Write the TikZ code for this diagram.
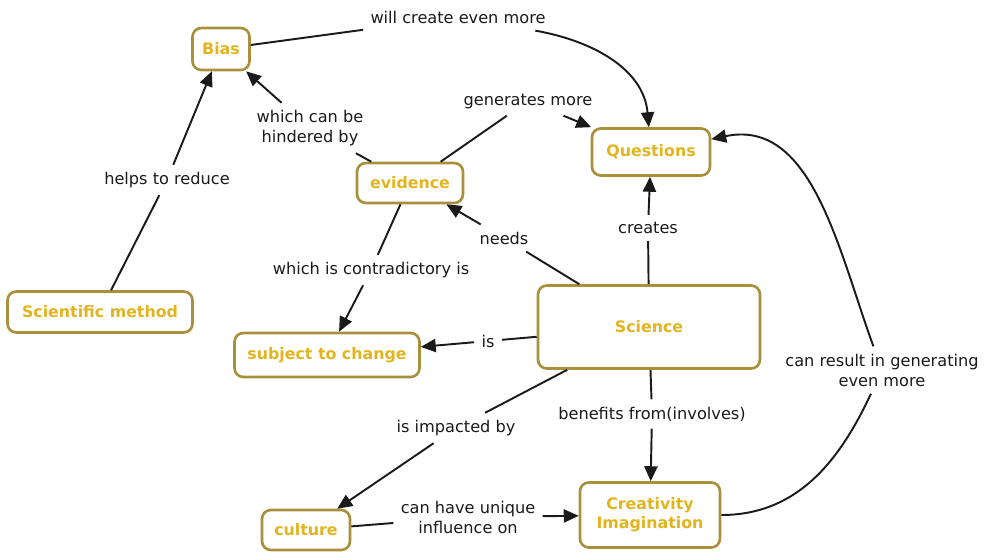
\documentclass[tikz,border=0pt]{standalone}
\usepackage{fontspec}
\setmainfont{DejaVu Sans}
\usetikzlibrary{arrows.meta, positioning}
\definecolor{Ochre}{HTML}{A8903C}
\definecolor{Mustard}{HTML}{E2B41E}
\definecolor{Ink}{HTML}{1A1A1A}

\begin{document}
\begin{tikzpicture}[x=0.02cm, y=-0.02cm,
    concept/.style={draw=Ochre, line width=1.5pt, rounded corners=5pt, fill=white, text=Mustard,
        font=\fontsize{9}{11}\selectfont\bfseries, align=center, inner sep=2pt},
    link/.style={font=\fontsize{9.2}{11.4}\selectfont, text=Ink, align=center, inner sep=4pt},
    line/.style={Ink, line width=1.1pt},
    arr/.style={line, -{Triangle[length=8.5pt, width=7.5pt]}}]
    \useasboundingbox (0,0) rectangle (1000,556);

    % Concepts
    \node[concept, minimum width=1.14cm, minimum height=0.84cm] (bias) at (221,49) {Bias};
    \node[concept, minimum width=2.36cm, minimum height=0.94cm] (quest) at (651,152) {Questions};
    \node[concept, minimum width=2.12cm, minimum height=0.8cm] (evid) at (410,183) {evidence};
    \node[concept, minimum width=3.7cm, minimum height=0.82cm] (method) at (100,312) {Scientific method};
    \node[concept, minimum width=3.7cm, minimum height=0.88cm] (change) at (327,355) {subject to change};
    \node[concept, minimum width=4.44cm, minimum height=1.66cm] (sci) at (649,327) {Science};
    \node[concept, minimum width=1.76cm, minimum height=0.8cm] (cult) at (306,530) {culture};
    \node[concept, minimum width=2.8cm, minimum height=1.3cm] (creat) at (650,515) {Creativity\\Imagination};

    % Linking phrases
    \node[link] (lmore) at (458,17) {will create even more};
    \node[link] (lhinder) at (310,128) {which can be\\hindered by};
    \node[link] (lgen) at (528,101) {generates more};
    \node[link] (lreduce) at (167,180) {helps to reduce};
    \node[link] (lneeds) at (504,238) {needs};
    \node[link] (lcreates) at (648,228) {creates};
    \node[link] (lcontra) at (371,270) {which is contradictory is};
    \node[link] (lis) at (488,341) {is};
    \node[link] (lresult) at (882,370) {can result in generating\\even more};
    \node[link] (limpact) at (456,428) {is impacted by};
    \node[link] (lbenefit) at (652,414) {benefits from(involves)};
    \node[link] (linfl) at (468,517) {can have unique\\influence on};

    % Connections
    \draw[line] (bias) -- (lmore);
    \draw[arr] (lmore) to[out=-10, in=95] (quest);
    \draw[line] (evid) -- (lhinder);
    \draw[arr] (lhinder) -- (bias);
    \draw[line] (evid) -- (lgen);
    \draw[arr] (lgen) -- (quest);
    \draw[line] (method) -- (lreduce);
    \draw[arr] (lreduce) -- (bias);
    \draw[line] (sci) -- (lneeds);
    \draw[arr] (lneeds) -- (evid);
    \draw[line] (sci) -- (lcreates);
    \draw[arr] (lcreates) -- (quest);
    \draw[line] (evid) -- (lcontra);
    \draw[arr] (lcontra) -- (change);
    \draw[line] (sci) -- (lis);
    \draw[arr] (lis) -- (change);
    \draw[line] (sci) -- (limpact);
    \draw[arr] (limpact) -- (cult);
    \draw[line] (sci) -- (lbenefit);
    \draw[arr] (lbenefit) -- (creat);
    \draw[line] (cult) -- (linfl);
    \draw[arr] (linfl) -- (creat);
    \draw[line] (creat) to[out=0, in=-115] (lresult);
    \draw[arr] (lresult) to[out=110, in=12] (quest);
\end{tikzpicture}
\end{document}
